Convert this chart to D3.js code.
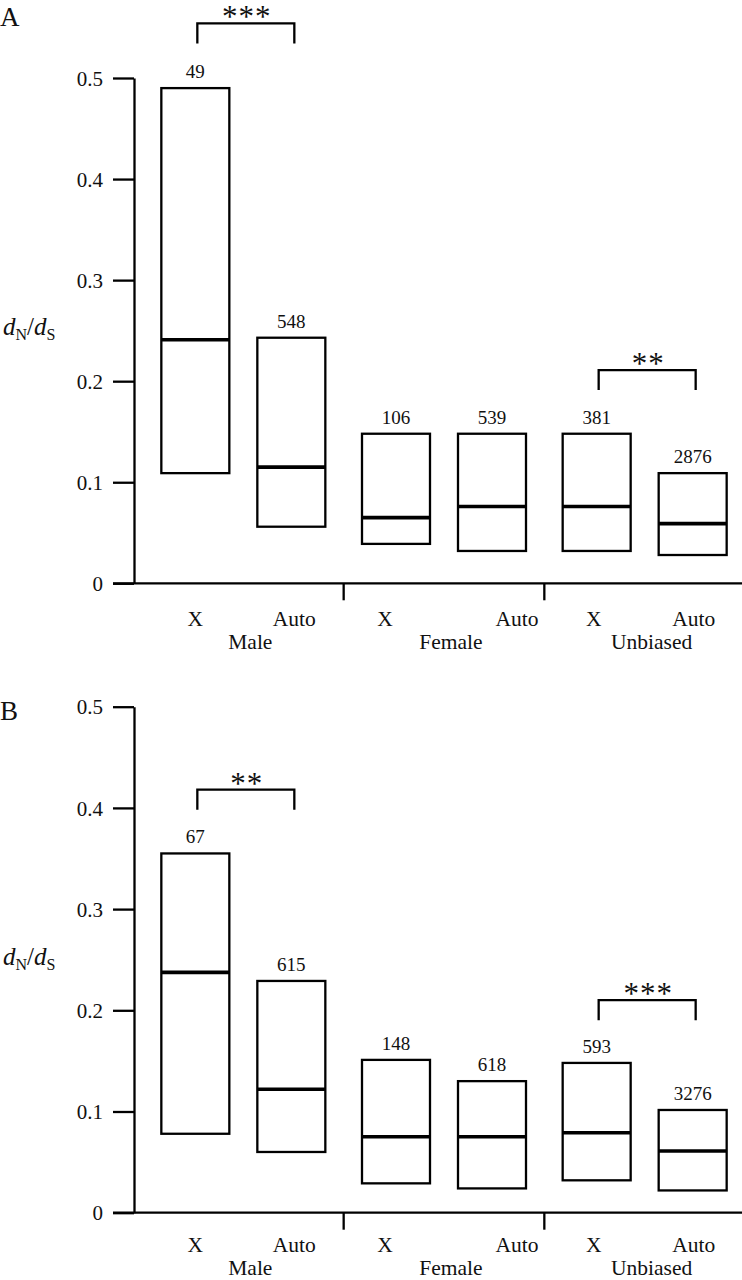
<!DOCTYPE html>
<html>
<head>
<meta charset="utf-8">
<script src="https://cdn.jsdelivr.net/npm/d3@7"></script>
<style>
  html, body { margin: 0; padding: 0; background: #fff; }
  svg { display: block; }
  svg text { font-family: "Liberation Serif", "Times New Roman", serif !important; }
</style>
</head>
<body>
<svg id="chart" width="742" height="1280"></svg>
<script>
// ---------------- data ----------------
const groups = ["Male", "Female", "Unbiased"];
const chroms = ["X", "Auto"];
const yTicks = [0, 0.1, 0.2, 0.3, 0.4, 0.5];
const yTickLabels = ["0", "0.1", "0.2", "0.3", "0.4", "0.5"];

// Panel A
const lowA  = [0.109, 0.056, 0.039, 0.032, 0.032, 0.028];
const medA  = [0.241, 0.115, 0.065, 0.076, 0.076, 0.059];
const highA = [0.490, 0.243, 0.148, 0.148, 0.148, 0.109];
const nA    = [49, 548, 106, 539, 381, 2876];
const sigGroupsA = ["Male", "Unbiased"];
const sigLabelsA = ["***", "**"];
const sigLevelA  = [0.554, 0.211];

// Panel B
const lowB  = [0.078, 0.060, 0.029, 0.024, 0.032, 0.022];
const medB  = [0.2375, 0.122, 0.075, 0.075, 0.079, 0.061];
const highB = [0.355, 0.229, 0.151, 0.130, 0.148, 0.1015];
const nB    = [67, 615, 148, 618, 593, 3276];
const sigGroupsB = ["Male", "Unbiased"];
const sigLabelsB = ["**", "***"];
const sigLevelB  = [0.418, 0.210];

// ---------------- layout ----------------
const FONT = "'Liberation Serif', 'Times New Roman', serif";
const svg = d3.select("#chart");
const axisX = 134, axisLeftEnd = 113, axisRightEnd = 742;
const boxW = 68;
const xGroup = d3.scaleBand().domain(groups).range([143, 745]);
const xInner = d3.scalePoint().domain(chroms).range([-48, 48]);
const labelNudge = [[0, 3], [-11, 25], [-3, 1]];

function buildRows(low, med, high, n) {
  const rows = [];
  groups.forEach((g, gi) => chroms.forEach((c, ci) => {
    const i = gi * 2 + ci;
    rows.push({ group: g, chrom: c, gi, ci, low: low[i], med: med[i], high: high[i], n: n[i] });
  }));
  return rows;
}
const cx = d => xGroup(d.group) + xGroup.bandwidth() / 2 + xInner(d.chrom);

function drawPanel(opts) {
  const { y0, y1, rows, sigGroups, sigLabels, sigLevel, catOff, grpY } = opts;
  const y = d3.scaleLinear().domain([0, 0.5]).range([y0, y1]);
  const g = svg.append("g");

  // y axis
  const ax = d3.axisLeft(y).tickValues(yTicks)
    .tickFormat((d, i) => yTickLabels[i])
    .tickSize(axisX - axisLeftEnd).tickSizeOuter(0).tickPadding(10);
  const ag = g.append("g").attr("transform", `translate(${axisX},0)`).call(ax)
    .attr("font-family", null).attr("font-size", null);
  ag.selectAll("path.domain").attr("stroke", "#000").attr("stroke-width", 2.3);
  ag.selectAll(".tick line").attr("stroke", "#000").attr("stroke-width", 2.3);
  ag.selectAll(".tick text").style("font-size", "21px").attr("fill", "#111")
    .style("font-family", FONT).attr("dy", "0.34em");

  // x axis line + separators
  g.append("line").attr("x1", axisLeftEnd).attr("x2", axisRightEnd)
    .attr("y1", y(0)).attr("y2", y(0)).attr("stroke", "#000").attr("stroke-width", 2.3);
  g.selectAll("line.sep").data(groups.slice(1)).enter().append("line")
    .attr("class", "sep")
    .attr("x1", d => xGroup(d)).attr("x2", d => xGroup(d))
    .attr("y1", y(0)).attr("y2", y(0) + 17)
    .attr("stroke", "#000").attr("stroke-width", 2.3);

  // boxes
  g.selectAll("rect.box").data(rows).enter().append("rect")
    .attr("class", "box")
    .attr("x", d => cx(d) - boxW / 2).attr("width", boxW)
    .attr("y", d => y(d.high)).attr("height", d => y(d.low) - y(d.high))
    .attr("fill", "none").attr("stroke", "#000").attr("stroke-width", 2.3);
  g.selectAll("line.med").data(rows).enter().append("line")
    .attr("class", "med")
    .attr("x1", d => cx(d) - boxW / 2).attr("x2", d => cx(d) + boxW / 2)
    .attr("y1", d => y(d.med)).attr("y2", d => y(d.med))
    .attr("stroke", "#000").attr("stroke-width", 3.6);
  g.selectAll("text.n").data(rows).enter().append("text")
    .attr("class", "n")
    .attr("x", d => cx(d)).attr("y", d => y(d.high) - 10)
    .attr("text-anchor", "middle").style("font-size", "19px").style("font-family", FONT)
    .attr("fill", "#111")
    .text(d => d.n);

  // category labels
  g.selectAll("text.cat").data(rows).enter().append("text")
    .attr("class", "cat")
    .attr("x", d => cx(d) + labelNudge[d.gi][d.ci]).attr("y", y(0) + catOff)
    .attr("text-anchor", "middle").style("font-size", "21.5px").style("font-family", FONT)
    .attr("fill", "#111")
    .text(d => d.chrom);
  g.selectAll("text.grp").data(groups).enter().append("text")
    .attr("class", "grp")
    .attr("x", d => xGroup(d) + xGroup.bandwidth() / 2 + 7).attr("y", grpY)
    .attr("text-anchor", "middle").style("font-size", "21.5px").style("font-family", FONT)
    .attr("fill", "#111")
    .text(d => d);

  // significance brackets
  sigGroups.forEach((sg, i) => {
    const r = rows.filter(d => d.group === sg);
    const xa = cx(r[0]) + 2, xb = cx(r[1]) + 3;
    const yb = y(sigLevel[i]);
    g.append("path")
      .attr("d", `M${xa},${yb + 20}V${yb}H${xb}V${yb + 20}`)
      .attr("fill", "none").attr("stroke", "#000").attr("stroke-width", 2.3);
    g.append("text")
      .attr("x", (xa + xb) / 2 + 1).attr("y", yb + 4)
      .attr("text-anchor", "middle").style("font-size", "31px").style("font-family", FONT)
      .attr("letter-spacing", 1).attr("fill", "#111")
      .text(sigLabels[i]);
  });

  // y label dN/dS
  const yl = g.append("text").attr("x", 3).attr("y", y0 - 248)
    .style("font-size", "25px").style("font-family", FONT).attr("fill", "#111");
  yl.append("tspan").attr("font-style", "italic").text("d");
  yl.append("tspan").style("font-size", "16px").attr("dy", 5).text("N");
  yl.append("tspan").attr("dy", -5).text("/");
  yl.append("tspan").attr("font-style", "italic").text("d");
  yl.append("tspan").style("font-size", "16px").attr("dy", 5).text("S");
}

drawPanel({ y0: 583.3, y1: 78, rows: buildRows(lowA, medA, highA, nA),
  sigGroups: sigGroupsA, sigLabels: sigLabelsA, sigLevel: sigLevelA,
  catOff: 43, grpY: 649 });
drawPanel({ y0: 1212.7, y1: 706.7, rows: buildRows(lowB, medB, highB, nB),
  sigGroups: sigGroupsB, sigLabels: sigLabelsB, sigLevel: sigLevelB,
  catOff: 39, grpY: 1275 });

// panel letters
svg.append("text").attr("x", 0).attr("y", 26).style("font-size", "27px").style("font-family", FONT).attr("fill", "#111").text("A");
svg.append("text").attr("x", 0).attr("y", 720).style("font-size", "27px").style("font-family", FONT).attr("fill", "#111").text("B");
</script>
</body>
</html>
